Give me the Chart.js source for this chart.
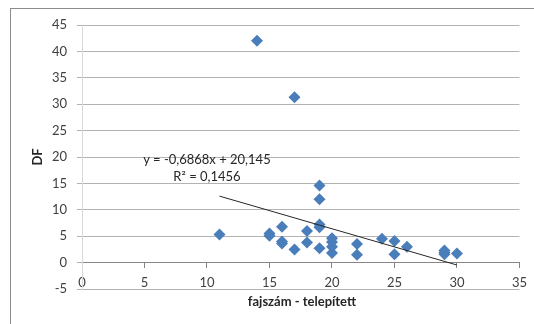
<!DOCTYPE html>
<html>
<head>
<meta charset="utf-8">
<title>DF - fajszám</title>
<script src="https://cdn.jsdelivr.net/npm/chart.js@4.4.1/dist/chart.umd.min.js"></script>
<style>
    body { margin: 0; background: #fff; }
    #wrap { position: relative; width: 534px; height: 324px; overflow: hidden; }
    #frame {
        position: absolute; left: 10px; top: 8px; width: 600px; height: 400px;
        border-left: 1px solid #8c8c8c; border-top: 1px solid #8c8c8c;
    }
    #scatter { position: absolute; left: 0; top: 0; }
    .txt { position: absolute; font-family: Lato, "Open Sans", sans-serif; color: #262626; white-space: nowrap; }
    #trendLabel { left: 107px; top: 151px; width: 200px; text-align: center; font-size: 13px; line-height: 16.5px; }
    #xTitle { left: 202px; top: 293px; width: 200px; text-align: center; font-size: 13px; font-weight: bold; }
</style>
</head>
<body>
<div id="wrap">
    <div id="frame"></div>
    <canvas id="scatter" width="534" height="324"></canvas>
    <div class="txt" id="trendLabel">y = -0,6868x + 20,145<br>R² = 0,1456</div>
    <div class="txt" id="xTitle">fajszám - telepített</div>
</div>
<script>
// fajszám (telepített) vs DF
const fajszam = [11, 14, 15, 15, 16, 16, 16, 17, 17, 18, 18, 19, 19, 19, 19, 19, 20, 20, 20, 20, 22, 22, 24, 25, 25, 26, 29, 29, 29, 30];
const dfValues = [5.3, 42.0, 5.5, 5.1, 6.8, 4.0, 3.6, 31.3, 2.5, 6.0, 3.8, 14.6, 12.0, 7.2, 6.7, 2.7, 4.6, 3.9, 3.0, 1.8, 3.5, 1.5, 4.5, 4.1, 1.6, 3.0, 2.3, 1.9, 1.6, 1.7];

const xTicks = [0, 5, 10, 15, 20, 25, 30, 35];
const yTicks = [-5, 0, 5, 10, 15, 20, 25, 30, 35, 40, 45];

// linear trendline: y = -0,6868x + 20,145
const SLOPE = -0.6868;
const INTERCEPT = 20.145;

const points = fajszam.map((x, i) => ({ x: x, y: dfValues[i] }));
const xMin = Math.min(...fajszam);
const xMax = Math.max(...fajszam);
const trend = [xMin, xMax].map(x => ({ x: x, y: SLOPE * x + INTERCEPT }));

const tickFont = { family: 'Lato, "Open Sans", sans-serif', size: 13 };

const ctx = document.getElementById('scatter').getContext('2d');
new Chart(ctx, {
    type: 'scatter',
    data: {
        datasets: [
            {
                label: 'DF',
                data: points,
                pointStyle: 'rectRot',
                pointRadius: 6,
                backgroundColor: '#4a7ebb',
                borderColor: '#4a7ebb',
                borderWidth: 0,
                order: 1
            },
            {
                label: 'Lineáris trend',
                data: trend,
                showLine: true,
                borderColor: '#262626',
                borderWidth: 1,
                pointRadius: 0,
                order: 0
            }
        ]
    },
    options: {
        responsive: false,
        animation: false,
        layout: { padding: { left: 0, top: 25, right: 11, bottom: 35 } },
        plugins: {
            legend: { display: false },
            tooltip: { enabled: false }
        },
        scales: {
            x: {
                type: 'linear',
                position: { y: 0 },
                min: xTicks[0],
                max: xTicks[xTicks.length - 1],
                afterBuildTicks: scale => { scale.ticks = xTicks.map(v => ({ value: v })); },
                ticks: { font: tickFont, color: '#404040', padding: 7, maxRotation: 0 },
                grid: { drawOnChartArea: false, drawTicks: true, tickLength: 5, color: '#868686' },
                border: { color: '#868686' }
            },
            y: {
                type: 'linear',
                min: yTicks[0],
                max: yTicks[yTicks.length - 1],
                afterBuildTicks: scale => { scale.ticks = yTicks.map(v => ({ value: v })); },
                afterFit: scale => { scale.width = 82; },
                ticks: { font: tickFont, color: '#404040', padding: 10 },
                grid: { color: '#b3b3b3', tickLength: 5 },
                border: { color: '#d9d9d9' },
                title: {
                    display: true,
                    text: 'DF',
                    color: '#262626',
                    font: { family: 'Lato, "Open Sans", sans-serif', size: 13, weight: 'bold' },
                    padding: { top: 30, bottom: 0 }
                }
            }
        }
    }
});
</script>
</body>
</html>
